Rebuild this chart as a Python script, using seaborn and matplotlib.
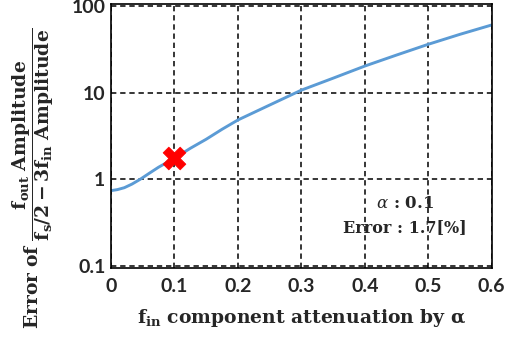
import matplotlib
matplotlib.use("Agg")
import matplotlib.pyplot as plt
import seaborn as sns
import pandas as pd

alpha = [0.0, 0.01, 0.021, 0.033, 0.046, 0.06, 0.075, 0.1, 0.125, 0.15, 0.175, 0.2, 0.25, 0.3,
         0.35, 0.4, 0.45, 0.5, 0.55, 0.6]
error = [0.74, 0.76, 0.80, 0.88, 1.0, 1.17, 1.38, 1.75, 2.28, 2.9, 3.78, 4.84, 7.2, 10.7,
         14.7, 20.3, 27.2, 36.2, 47.2, 60.5]
mark_x = [0.1]
mark_y = [1.75]
xticks = [0, 0.1, 0.2, 0.3, 0.4, 0.5, 0.6]
xtick_labels = ["0", "0.1", "0.2", "0.3", "0.4", "0.5", "0.6"]
yticks = [0.1, 1, 10, 100]
ytick_labels = ["0.1", "1", "10", "100"]

sns.set_style("white")
plt.rcParams['mathtext.fontset'] = 'dejavuserif'

fig = plt.figure(figsize=(5.18, 3.4), dpi=100)
ax = fig.add_axes([111/518, 1-268/340, (491.7-111)/518, (268-4)/340])

df = pd.DataFrame({"alpha": alpha, "error": error})
sns.lineplot(data=df, x="alpha", y="error", ax=ax, color="#5B9BD5", linewidth=2.1)
sns.scatterplot(x=mark_x, y=mark_y, ax=ax, marker="X", s=270, color="#FF0000",
                edgecolor="#FF0000", linewidth=0.5, zorder=5)

ax.set_yscale("log")
ax.set_xlim(0, 0.6)
ax.set_ylim(10 ** -1.024, 10 ** 2.024)
ax.set_xticks(xticks)
ax.set_xticklabels(xtick_labels)
ax.set_yticks(yticks)
ax.set_yticklabels(ytick_labels)
ax.minorticks_off()
ax.tick_params(axis="x", length=0, labelsize=14, pad=7)
ax.tick_params(axis="y", length=0, labelsize=14, pad=4)
for lab in ax.get_xticklabels() + ax.get_yticklabels():
    lab.set_fontweight("bold")
    lab.set_family("Lato")

ax.grid(True, color="black", linestyle=(0, (3.5, 2.5)), linewidth=1.1)
for s in ax.spines.values():
    s.set_color("black")
    s.set_linewidth(1.2)

ax.set_xlabel(r"$\mathbf{f_{in}}$ component attenuation by $\mathbf{\alpha}$",
              fontsize=13.5, fontweight="bold", family="DejaVu Serif", labelpad=9)
ax.set_ylabel(r"$\mathbf{Error\ of}\ \dfrac{\mathbf{f_{out}\ Amplitude}}{\mathbf{f_s/2-3f_{in}\ Amplitude}}$",
              fontsize=13.5)
ax.yaxis.set_label_coords(-0.145, 0.34)

ax.text(0.772, 0.246, r"$\alpha$ : $\mathbf{0.1}$", ha="center", va="center",
        fontsize=12, fontweight="bold", family="DejaVu Serif", transform=ax.transAxes)
ax.text(0.772, 0.152, "Error : 1.7[%]", ha="center", va="center",
        fontsize=11.5, fontweight="bold", family="DejaVu Serif", transform=ax.transAxes)

fig.savefig("out.png", dpi=100)
